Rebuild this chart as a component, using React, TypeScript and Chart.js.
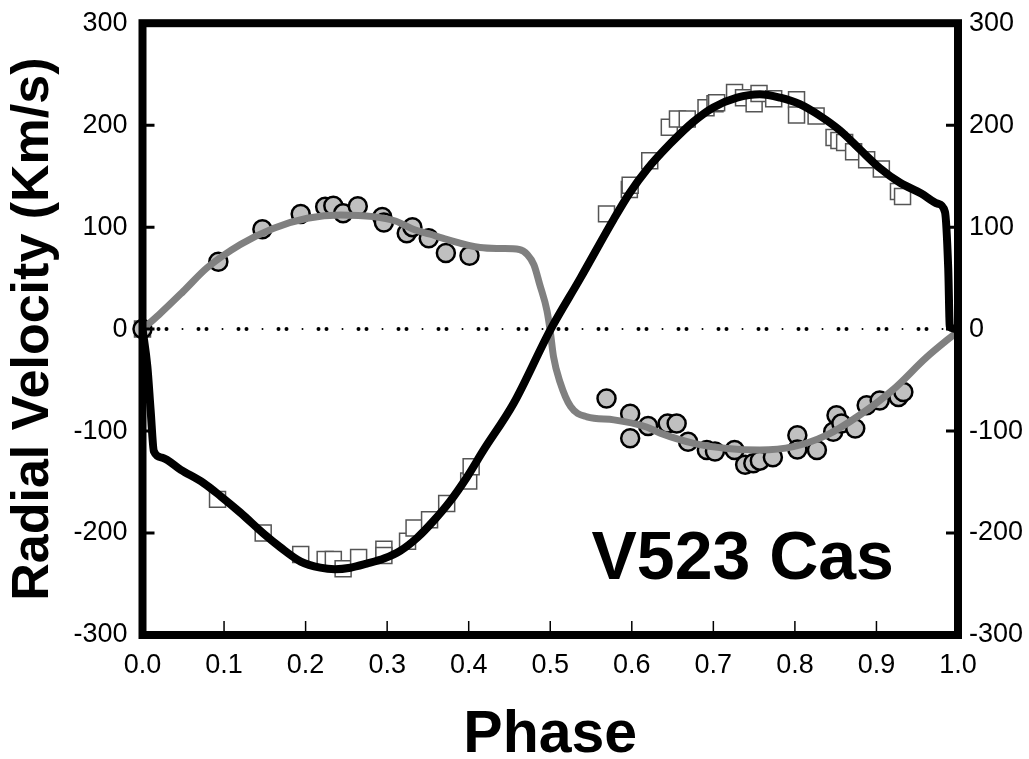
import React, { useEffect, useRef } from 'react';
import { Chart, registerables } from 'chart.js';

Chart.register(...registerables);

// ---- data ----
const phaseTicks = [0, 0.1, 0.2, 0.3, 0.4, 0.5, 0.6, 0.7, 0.8, 0.9, 1.0];
const velocityTicks = [-300, -200, -100, 0, 100, 200, 300];

// Primary star model curve (black)
const primaryModelPhase = [0.0, 0.006, 0.01, 0.014, 0.024, 0.047, 0.075, 0.096, 0.12, 0.149, 0.169, 0.194, 0.218, 0.236, 0.255, 0.275, 0.296, 0.316, 0.337, 0.357, 0.377, 0.398, 0.418, 0.455, 0.5, 0.537, 0.578, 0.597, 0.619, 0.647, 0.675, 0.7, 0.729, 0.757, 0.782, 0.806, 0.831, 0.855, 0.88, 0.904, 0.929, 0.955, 0.975, 0.984, 0.988, 0.99, 1.0];
const primaryModelVel = [0, -37, -80, -120, -126, -138, -151, -164, -180, -201, -214, -228, -234, -235.5, -234, -230, -225, -217.5, -204.5, -188, -169, -145, -119, -73, -1, 50, 108, 133, 157, 181.7, 203, 217.4, 227, 230.4, 227, 220.6, 209, 195, 176, 158, 143.5, 133, 123, 115, 60, 2, 0];

// Secondary star model curve (gray)
const secondaryModelPhase = [0.0, 0.02, 0.05, 0.079, 0.12, 0.161, 0.202, 0.243, 0.283, 0.31, 0.332, 0.353, 0.373, 0.414, 0.44, 0.462, 0.472, 0.48, 0.487, 0.496, 0.5, 0.504, 0.512, 0.525, 0.545, 0.578, 0.618, 0.635, 0.676, 0.717, 0.757, 0.798, 0.839, 0.88, 0.921, 0.961, 1.0];
const secondaryModelVel = [0, 14, 37, 60, 83, 99, 108.7, 112, 110.3, 106, 98, 93, 88, 80, 79, 78, 73, 63, 44, 18, -2, -27, -52, -76, -86, -89, -96, -102, -112, -117, -118.5, -115.3, -104, -84, -59, -28, -2];

// Primary observations (open squares)
const primaryObsPhase = [0.0, 0.092, 0.148, 0.194, 0.224, 0.234, 0.246, 0.265, 0.296, 0.296, 0.325, 0.333, 0.352, 0.373, 0.4, 0.403, 0.569, 0.597, 0.598, 0.622, 0.646, 0.656, 0.668, 0.691, 0.702, 0.704, 0.726, 0.737, 0.75, 0.756, 0.774, 0.802, 0.802, 0.826, 0.848, 0.854, 0.861, 0.872, 0.888, 0.906, 0.927, 0.932];
const primaryObsVel = [0, -167, -200, -221, -226, -226, -235, -224, -216, -222, -208, -195, -187, -171, -149, -135, 113, 137, 141, 165, 198, 206, 206, 217, 221, 222, 232, 227, 221, 231, 226, 225, 210, 209, 188, 185, 183, 174, 166, 157, 135, 130];

// Secondary observations (gray circles)
const secondaryObsPhase = [0.0, 0.093, 0.147, 0.194, 0.224, 0.234, 0.246, 0.264, 0.294, 0.296, 0.324, 0.331, 0.351, 0.372, 0.401, 0.569, 0.598, 0.598, 0.62, 0.644, 0.655, 0.669, 0.692, 0.702, 0.726, 0.739, 0.749, 0.757, 0.773, 0.803, 0.803, 0.827, 0.847, 0.851, 0.857, 0.874, 0.888, 0.904, 0.927, 0.933];
const secondaryObsVel = [0, 66, 98, 113, 120, 121, 113.5, 120.5, 110, 104.5, 94, 100, 89, 74.6, 72, -68, -83, -107, -95, -92.5, -92.5, -110.5, -118.5, -120, -118.5, -133, -131.5, -129, -125.6, -104, -118, -118.5, -100.7, -84.4, -92.5, -97.4, -74.7, -70, -66.6, -61.7];

const zeroLinePhase = [0, 1];
const zeroLineVel = [0, 0];

const starLabel = 'V523 Cas';
const starLabelPos = { phase: 0.736, vel: -245 };

const FONT = "'Liberation Sans', Arial, Helvetica, sans-serif";

const zip = (xs: number[], ys: number[]) => xs.map((x, i) => ({ x, y: ys[i] }));

const framePlugin = {
  id: 'frameAndTicks',
  afterDatasetsDraw(chart: any) {
    const { ctx, chartArea, scales } = chart;
    const { left, right, top, bottom } = chartArea;
    ctx.save();
    ctx.strokeStyle = '#000';
    ctx.lineWidth = 3;
    velocityTicks.forEach((v) => {
      const y = scales.y.getPixelForValue(v);
      ctx.beginPath();
      ctx.moveTo(left, y);
      ctx.lineTo(left + 12, y);
      ctx.moveTo(right, y);
      ctx.lineTo(right - 12, y);
      ctx.stroke();
    });
    ctx.lineWidth = 1.5;
    phaseTicks.forEach((p) => {
      const x = scales.x.getPixelForValue(p);
      ctx.beginPath();
      ctx.moveTo(x, bottom);
      ctx.lineTo(x, bottom - 14);
      ctx.stroke();
    });
    ctx.lineWidth = 8;
    ctx.lineJoin = 'miter';
    ctx.strokeRect(left, top, right - left, bottom - top);
    ctx.fillStyle = '#000';
    ctx.font = `bold 68px ${FONT}`;
    ctx.textAlign = 'center';
    ctx.textBaseline = 'alphabetic';
    ctx.fillText(starLabel, scales.x.getPixelForValue(starLabelPos.phase), scales.y.getPixelForValue(starLabelPos.vel));
    ctx.restore();
  },
};

export default function App() {
  const ref = useRef<HTMLCanvasElement | null>(null);
  useEffect(() => {
    document.body.style.margin = '0';
    const canvas = ref.current;
    if (!canvas) return;
    const tickFont = { family: FONT, size: 27 };
    const chart = new Chart(canvas, {
      type: 'scatter',
      data: {
        datasets: [
          {
            label: 'Primary model',
            data: zip(primaryModelPhase, primaryModelVel),
            showLine: true,
            borderColor: '#000000',
            borderWidth: 8,
            pointRadius: 0,
            cubicInterpolationMode: 'monotone',
            order: 0,
          },
          {
            label: 'Secondary model',
            data: zip(secondaryModelPhase, secondaryModelVel),
            showLine: true,
            borderColor: '#808080',
            borderWidth: 7,
            pointRadius: 0,
            cubicInterpolationMode: 'monotone',
            order: 1,
          },
          {
            label: 'Secondary obs',
            data: zip(secondaryObsPhase, secondaryObsVel),
            showLine: false,
            pointStyle: 'circle',
            pointRadius: 9,
            backgroundColor: '#c0c0c0',
            borderColor: '#000000',
            borderWidth: 2.5,
            clip: false,
            order: 2,
          },
          {
            label: 'Primary obs',
            data: zip(primaryObsPhase, primaryObsVel),
            showLine: false,
            pointStyle: 'rect',
            pointRadius: 11.3,
            backgroundColor: '#ffffff',
            borderColor: '#555555',
            borderWidth: 1.5,
            clip: false,
            order: 3,
          },
          {
            label: 'zero big',
            data: zip(zeroLinePhase, zeroLineVel),
            showLine: true,
            borderColor: '#000000',
            borderWidth: 4,
            borderCapStyle: 'round',
            borderDash: [0, 8, 0, 32],
            borderDashOffset: -16,
            pointRadius: 0,
            order: 4,
          },
          {
            label: 'zero small',
            data: zip(zeroLinePhase, zeroLineVel),
            showLine: true,
            borderColor: '#000000',
            borderWidth: 2,
            borderCapStyle: 'round',
            borderDash: [0, 40],
            borderDashOffset: 0,
            pointRadius: 0,
            order: 5,
          },
        ],
      },
      options: {
        responsive: false,
        animation: false,
        events: [],
        layout: { padding: { top: 8, left: 0, right: 0, bottom: 0 } },
        plugins: { legend: { display: false }, tooltip: { enabled: false } },
        scales: {
          x: {
            type: 'linear',
            position: 'bottom',
            min: 0,
            max: 1,
            grid: { display: false },
            border: { display: false },
            afterBuildTicks: (s: any) => { s.ticks = phaseTicks.map((v) => ({ value: v })); },
            afterFit: (s: any) => { s.height = 124; },
            ticks: {
              font: tickFont,
              color: '#000',
              padding: 6,
              maxRotation: 0,
              autoSkip: false,
              callback: (v: any) => Number(v).toFixed(1),
            },
            title: {
              display: true,
              text: 'Phase',
              color: '#000',
              font: { family: FONT, size: 59, weight: 'bold', lineHeight: 0.8 },
              padding: { top: 0, bottom: 0 },
            },
          },
          y: {
            type: 'linear',
            position: 'left',
            min: -300,
            max: 300,
            grid: { display: false },
            border: { display: false },
            afterBuildTicks: (s: any) => { s.ticks = velocityTicks.map((v) => ({ value: v })); },
            afterFit: (s: any) => { s.width = 142.5; },
            ticks: { font: tickFont, color: '#000', padding: 7, autoSkip: false },
            title: {
              display: true,
              text: 'Radial Velocity (Km/s)',
              color: '#000',
              font: { family: FONT, size: 52, weight: 'bold', lineHeight: 1 },
              padding: { top: 8, bottom: 0 },
            },
          },
          y2: {
            type: 'linear',
            position: 'right',
            min: -300,
            max: 300,
            grid: { display: false },
            border: { display: false },
            afterBuildTicks: (s: any) => { s.ticks = velocityTicks.map((v) => ({ value: v })); },
            afterFit: (s: any) => { s.width = 71; },
            ticks: { font: tickFont, color: '#000', padding: 3, autoSkip: false },
          },
        },
      },
      plugins: [framePlugin],
    } as any);
    return () => chart.destroy();
  }, []);
  return (
    <div style={{ width: 1029, height: 759 }}>
      <canvas ref={ref} width={1029} height={759} style={{ display: 'block' }} />
    </div>
  );
}
